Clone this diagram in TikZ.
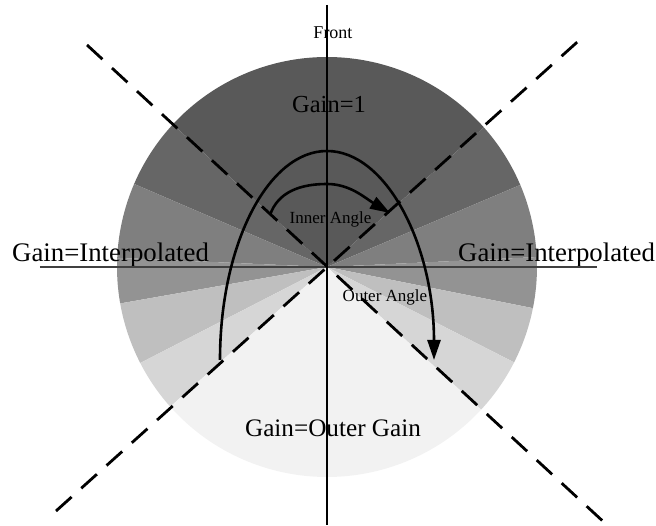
\documentclass[tikz,border=0pt]{standalone}
\usepackage{fontspec}
\setmainfont{Liberation Serif}
\usetikzlibrary{arrows.meta}
\definecolor{cA}{HTML}{595959}
\definecolor{cB}{HTML}{666666}
\definecolor{cC}{HTML}{7F7F7F}
\definecolor{cD}{HTML}{939393}
\definecolor{cE}{HTML}{BFBFBF}
\definecolor{cF}{HTML}{D6D6D6}
\definecolor{cG}{HTML}{F2F2F2}
\begin{document}
\begin{tikzpicture}[x=1pt,y=1pt,
  dashline/.style={line width=2.8pt, dash pattern=on 21pt off 13pt},
  axis/.style={line width=1.2pt},
  sweep/.style={line width=2.6pt, -{Triangle[length=20pt,width=13pt]}},
  big/.style={font=\fontsize{24.5}{28}\selectfont, inner sep=0pt, anchor=base},
  bigw/.style={font=\fontsize{26.8}{30}\selectfont, inner sep=0pt, anchor=base west},
  small/.style={font=\fontsize{17}{20}\selectfont, inner sep=0pt, anchor=base},
  front/.style={font=\fontsize{18}{21}\selectfont, inner sep=0pt, anchor=base}]
\useasboundingbox (-327,-259) rectangle (329,267);
\coordinate (O) at (0,0);
% sectors
\newcommand{\sect}[3]{\fill[#1] (O) -- (#2:210) arc[start angle=#2, end angle=#3, radius=210] -- cycle;}
\sect{cA}{41.7}{137.2}
\sect{cB}{137.2}{156.7}
\sect{cB}{23}{41.7}
\sect{cC}{156.7}{177.5}
\sect{cC}{2.7}{23}
\sect{cD}{177.5}{190}
\sect{cD}{-11.3}{2.7}
\sect{cE}{190}{207.2}
\sect{cE}{-27}{-11.3}
\sect{cF}{207.2}{221.7}
\sect{cF}{-42.8}{-27}
\sect{cG}{221.7}{317.2}
% text
\node[front] (front) at (6,228) {Front};
\node[big] (g1) at (2,154) {Gain=1};
\node[bigw] (gl) at (-315,5) {Gain=Interpolated};
\node[bigw] (gr) at (131,5) {Gain=Interpolated};
\node[small] (ia) at (3.5,43) {Inner Angle};
\node[small] (oa) at (58,-35) {Outer Angle};
\node[big, font=\fontsize{25.2}{29}\selectfont] (go) at (6,-170) {Gain=Outer Gain};
% axes
\coordinate (H1) at (-287,0); \coordinate (H2) at (270,0);
\coordinate (V1) at (0,262); \coordinate (V2) at (0,-258);
\draw[axis, draw=black!75] (H1) -- (H2);
\draw[axis] (V1) -- (V2);
% dashed lines
\coordinate (A1) at (-271,-244); \coordinate (A2) at (257,231);
\coordinate (B1) at (-240,222); \coordinate (B2) at (280,-258);
\draw[dashline] (A1) -- (A2);
\draw[dashline] (B1) -- (B2);
% sweeps
\coordinate (S1) at (-107,-93);
\draw[sweep] (S1) arc[start angle=180, end angle=0, x radius=107, y radius=209];
\coordinate (T1) at (-57,52); \coordinate (T2) at (0,83); \coordinate (T3) at (63,54);
\draw[sweep] (T1) .. controls (-49,75) and (-27,83) .. (T2) .. controls (23,83) and (38,69) .. (T3);
\end{tikzpicture}
\end{document}
